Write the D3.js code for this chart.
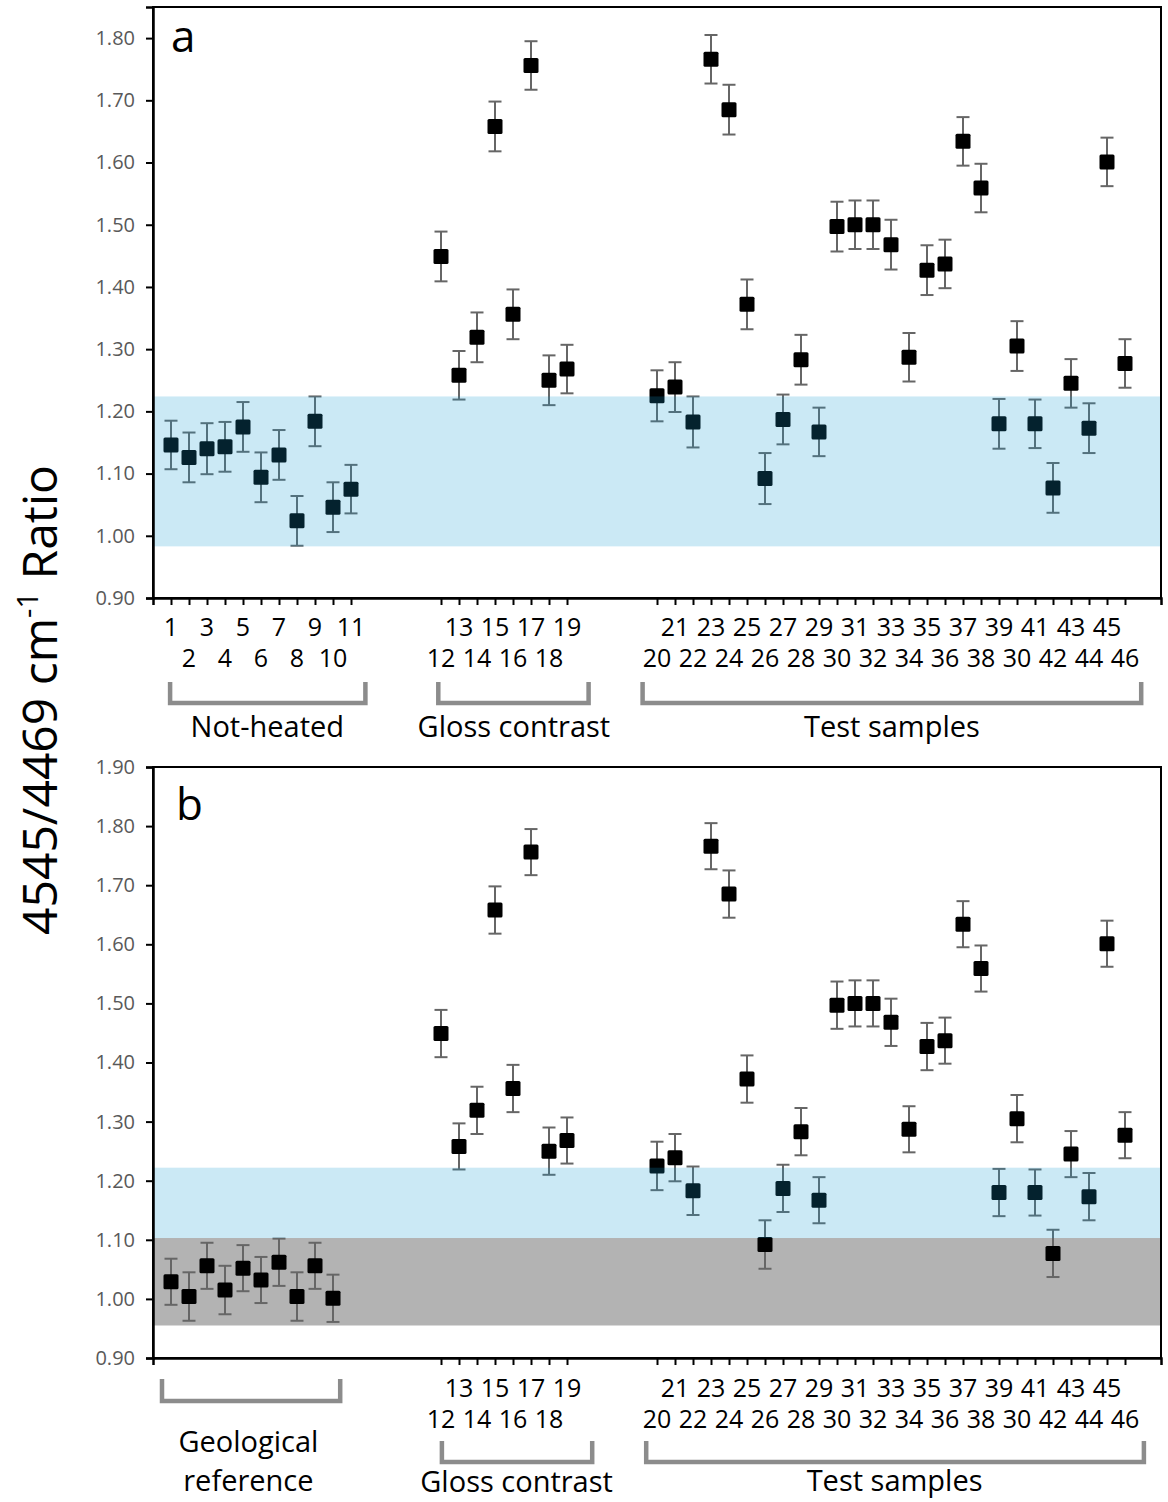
<!DOCTYPE html>
<html><head><meta charset="utf-8">
<script src="https://cdn.jsdelivr.net/npm/d3@7"></script>
<style>body{margin:0;background:#fff}svg{display:block}</style>
</head><body><svg id="c" width="1168" height="1502"></svg>
<script>
// ---------------- DATA ----------------
const notHeatedIds = [1,2,3,4,5,6,7,8,9,10,11];
const notHeatedVals = [1.146,1.126,1.140,1.143,1.175,1.094,1.130,1.024,1.184,1.046,1.075];
const notHeatedErr  = [0.039,0.040,0.041,0.040,0.040,0.040,0.040,0.040,0.040,0.040,0.039];

const glossIds  = [12,13,14,15,16,17,18,19];
const glossVals = [1.449,1.258,1.319,1.658,1.356,1.756,1.250,1.268];
const glossErr  = [0.040,0.039,0.040,0.040,0.040,0.039,0.040,0.039];

const testIds  = [20,21,22,23,24,25,26,27,28,29,30,31,32,33,34,35,36,37,38,39,40,41,42,43,44,45,46];
const testVals = [1.225,1.239,1.183,1.766,1.685,1.372,1.092,1.187,1.283,1.167,1.497,1.500,1.500,1.468,1.287,
                  1.427,1.437,1.634,1.559,1.180,1.305,1.180,1.077,1.245,1.173,1.601,1.277];
const testErr  = [0.041,0.040,0.041,0.039,0.040,0.040,0.041,0.040,0.040,0.039,0.040,0.039,0.039,0.040,0.039,
                  0.040,0.039,0.039,0.039,0.040,0.040,0.039,0.040,0.039,0.040,0.039,0.039];

const geoVals = [1.029,1.004,1.056,1.015,1.052,1.032,1.062,1.004,1.056,1.001];
const geoErr  = [0.039,0.041,0.039,0.041,0.039,0.039,0.040,0.041,0.039,0.040];

// tick labels (as printed in the figure, including its "30" for 40)
const xTickLabels = ["1","2","3","4","5","6","7","8","9","10","11",
  "12","13","14","15","16","17","18","19",
  "20","21","22","23","24","25","26","27","28","29","30","31","32","33","34","35","36","37","38","39","30","41","42","43","44","45","46"];
const yTicksA = [0.90,1.00,1.10,1.20,1.30,1.40,1.50,1.60,1.70,1.80];
const yTicksB = [0.90,1.00,1.10,1.20,1.30,1.40,1.50,1.60,1.70,1.80,1.90];

const bandBlueA = [0.983, 1.224];
const bandBlueB = [1.103, 1.222];
const bandGrayB = [0.955, 1.103];

const groupLabelsA = ["Not-heated","Gloss contrast","Test samples"];
const groupLabelsB = [["Geological","reference"],["Gloss contrast"],["Test samples"]];

// ---------------- LAYOUT ----------------
const FONT = "'Open Sans', 'Noto Sans', sans-serif";
const svg = d3.select("#c");
const GAP = 4;
const groupStart = [1, 1 + 11 + GAP, 1 + 11 + GAP + 8 + GAP];
const x = d3.scaleLinear().domain([0, 56]).range([153, 1161]);

function mk(ids, vals, errs, g) {
  return vals.map((v, i) => ({ id: ids ? ids[i] : null, v, e: errs[i], slot: groupStart[g] + i }));
}
const sNot  = mk(notHeatedIds, notHeatedVals, notHeatedErr, 0);
const sGl   = mk(glossIds, glossVals, glossErr, 1);
const sTest = mk(testIds, testVals, testErr, 2);
const sGeo  = mk(null, geoVals, geoErr, 0);

const panels = [
  { letter: "a", top: 7, bottom: 598, ymax: 1.85, yTicks: yTicksA, blue: bandBlueA, gray: null,
    points: [...sNot, ...sGl, ...sTest], allTicks: [...sNot, ...sGl, ...sTest],
    row1: 636, row2: 667, letterPos: [171, 52] },
  { letter: "b", top: 767, bottom: 1358, ymax: 1.90, yTicks: yTicksB, blue: bandBlueB, gray: bandGrayB,
    points: [...sGeo, ...sGl, ...sTest], allTicks: [...sGl, ...sTest],
    row1: 1397, row2: 1428, letterPos: [176, 820] }
];

panels.forEach(p => {
  const y = d3.scaleLinear().domain([0.9, p.ymax]).range([p.bottom, p.top]);
  const g = svg.append("g");
  const L = x.range()[0], R = x.range()[1];

  if (p.gray) {
    g.append("rect").attr("x", L).attr("width", R - L)
      .attr("y", y(p.gray[1])).attr("height", y(p.gray[0]) - y(p.gray[1]))
      .attr("fill", "#b3b3b3");
  }

  // error bars
  const eb = g.append("g").attr("stroke", "#666").attr("stroke-width", 2).attr("fill", "none");
  p.points.forEach(d => {
    const cx = x(d.slot);
    eb.append("line").attr("x1", cx).attr("x2", cx).attr("y1", y(d.v - d.e)).attr("y2", y(d.v + d.e));
    eb.append("line").attr("x1", cx - 6.5).attr("x2", cx + 6.5).attr("y1", y(d.v - d.e)).attr("y2", y(d.v - d.e));
    eb.append("line").attr("x1", cx - 6.5).attr("x2", cx + 6.5).attr("y1", y(d.v + d.e)).attr("y2", y(d.v + d.e));
  });
  // markers
  g.append("g").selectAll("rect").data(p.points).join("rect")
    .attr("x", d => x(d.slot) - 7.5).attr("y", d => y(d.v) - 7.5)
    .attr("width", 15).attr("height", 15).attr("rx", 1.5).attr("fill", "#000");

  // blue band overlay
  g.append("rect").attr("x", L).attr("width", R - L)
    .attr("y", y(p.blue[1])).attr("height", y(p.blue[0]) - y(p.blue[1]))
    .attr("fill", "rgb(18,155,209)").attr("fill-opacity", 0.22);

  // frame
  g.append("rect").attr("x", L).attr("y", p.top).attr("width", R - L).attr("height", p.bottom - p.top)
    .attr("fill", "none").attr("stroke", "#000").attr("stroke-width", 2);

  // y axis
  const ya = d3.axisLeft(y).tickValues(p.yTicks).tickFormat(d3.format(".2f")).tickSize(7).tickPadding(11);
  const yg = g.append("g").attr("transform", `translate(${L},0)`).call(ya);
  yg.select(".domain").attr("stroke", "#000").attr("stroke-width", 2.5);
  yg.selectAll(".tick line").attr("stroke", "#000").attr("stroke-width", 2);
  yg.selectAll(".tick text").attr("fill", "#595959").attr("font-family", FONT).attr("font-size", 20);

  // x axis: ticks only at sample slots
  const xa = d3.axisBottom(x).tickValues(p.allTicks.map(d => d.slot)).tickFormat("").tickSize(7);
  const xg = g.append("g").attr("transform", `translate(0,${p.bottom})`).call(xa);
  xg.select(".domain").attr("stroke", "#000").attr("stroke-width", 2.5);
  xg.selectAll(".tick line").attr("stroke", "#000").attr("stroke-width", 2);

  // x tick labels in two rows
  const lab = g.append("g").attr("font-family", FONT).attr("font-size", 25).attr("fill", "#000").attr("text-anchor", "middle");
  p.allTicks.forEach(d => {
    const odd = d.id % 2 === 1;
    lab.append("text").attr("x", x(d.slot)).attr("y", odd ? p.row1 : p.row2).text(xTickLabels[d.id - 1]);
  });

  // panel letter
  g.append("text").attr("x", p.letterPos[0]).attr("y", p.letterPos[1])
    .attr("font-family", FONT).attr("font-size", 44).attr("fill", "#000").text(p.letter);
});

// brackets
function bracket(x1, x2, y1, y2) {
  svg.append("path").attr("d", `M${x1},${y1} V${y2} H${x2} V${y1}`)
    .attr("fill", "none").attr("stroke", "#8c8c8c").attr("stroke-width", 4.5);
}
bracket(x(0.95), x(11.8), 682, 703);
bracket(x(15.85), x(24.2), 682, 703);
bracket(x(27.2), x(54.9), 682, 703);
bracket(x(0.5), x(10.4), 1379, 1401);
bracket(x(16.05), x(24.4), 1441, 1462);
bracket(x(27.4), x(55.05), 1441, 1462);

function label(txt, cx, by) {
  svg.append("text").attr("x", cx).attr("y", by).attr("text-anchor", "middle")
    .attr("font-family", FONT).attr("font-size", 29).attr("fill", "#000").text(txt);
}
label(groupLabelsA[0], x(6.35), 737);
label(groupLabelsA[1], x(20.05), 737);
label(groupLabelsA[2], x(41.05), 737);
label(groupLabelsB[0][0], x(5.3), 1452);
label(groupLabelsB[0][1], x(5.3), 1491);
label(groupLabelsB[1][0], x(20.2), 1492);
label(groupLabelsB[2][0], x(41.2), 1491);

// y title
const yt = svg.append("text").attr("transform", "translate(57,700) rotate(-90)")
  .attr("text-anchor", "middle").attr("font-family", FONT).attr("font-size", 48).attr("fill", "#000");
yt.append("tspan").text("4545/4469 cm");
yt.append("tspan").attr("font-size", 29).attr("dy", -19).text("-1");
yt.append("tspan").attr("dy", 19).text(" Ratio");
</script>
</body></html>
